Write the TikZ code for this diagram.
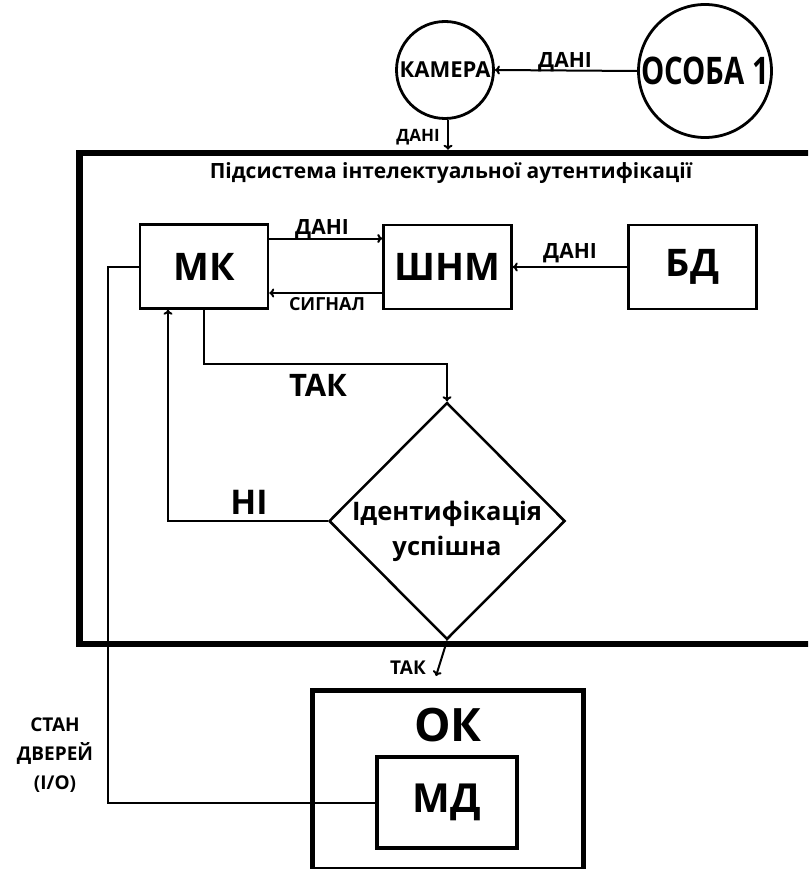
\documentclass[tikz,border=0pt]{standalone}
\usepackage{fontspec}
\setmainfont{Open Sans}
\usetikzlibrary{shapes.geometric,arrows.meta}

\begin{document}
\begin{tikzpicture}[x=1pt, y=-1pt,
		blk/.style={draw, line width=2.5pt, minimum width=128pt, minimum height=84pt, inner sep=0pt, font=\fontsize{38}{40}\selectfont\bfseries},
		ring/.style={circle, draw, line width=2.8pt, inner sep=0pt},
		lbl/.style={inner sep=0pt, font=\fontsize{21}{22}\selectfont\bfseries},
		big/.style={inner sep=0pt, font=\fontsize{31}{32}\selectfont\bfseries},
		conn/.style={-{To[length=5pt, width=9pt]}, line width=2pt},
		wire/.style={line width=2pt}]
		\useasboundingbox (0,0) rectangle (808,869);
		\clip (0,0) rectangle (808,869);
		\fill[white] (0,0) rectangle (808,869);

		\node[ring, minimum size=97pt, font=\fontsize{22}{22}\selectfont\bfseries] (cam) at (445,70) {КАМЕРА};
		\node[ring, minimum size=133pt, font=\fontsize{38}{38}\selectfont\bfseries] (person) at (705,71) {\scalebox{0.77}[1]{ОСОБА 1}};

		\node[draw, line width=6.5pt, minimum width=760pt, minimum height=491pt] (subsys) at (459.5,398.5) {};
		\node[inner sep=0pt, font=\fontsize{21}{22}\selectfont\bfseries] (title) at (451,173) {Підсистема інтелектуальної аутентифікації};

		\node[blk] (mk) at (204,266.5) {МК};
		\node[blk] (shnm) at (447.5,267) {ШНМ};
		\node[blk] (bd) at (692.5,267) {БД};

		\node[diamond, draw, line width=2.5pt, minimum width=236pt, minimum height=237pt, inner sep=0pt] (dec) at (447,521) {};
		\node[align=center, inner sep=0pt, font=\fontsize{25.5}{35}\selectfont\bfseries] (dectxt) at ([yshift=-10pt]dec.center) {Ідентифікація\\успішна};

		\node[draw, line width=5pt, minimum width=271pt, minimum height=179pt] (ok) at (448,780) {};
		\node[inner sep=0pt, font=\fontsize{46}{48}\selectfont\bfseries] (oktxt) at (448,725) {ОК};
		\node[draw, line width=4.5pt, minimum width=140pt, minimum height=91pt, font=\fontsize{40}{42}\selectfont\bfseries] (md) at (447,802.5) {МД};

		\coordinate (okin) at (436,676);

		\draw[conn] (person.west) -- (cam.east);
		\node[lbl] (d1) at (565,62) {ДАНІ};
		\draw[conn] ([xshift=3pt]cam.south) -- ([xshift=3pt]cam.south |- subsys.north);
		\node[lbl, font=\fontsize{17}{18}\selectfont\bfseries] (d2) at (418,137) {ДАНІ};

		\draw[conn] ([yshift=28pt]mk.east) -- ([yshift=28pt]mk.east -| shnm.west);
		\node[lbl] (d3) at (322,229) {ДАНІ};
		\draw[conn] ([yshift=-26pt]shnm.west) -- ([yshift=-26pt]shnm.west -| mk.east);
		\node[lbl, font=\fontsize{18}{20}\selectfont\bfseries] (sig) at (327,304) {СИГНАЛ};
		\draw[conn] (bd.west) -- (shnm.east);
		\node[lbl] (d4) at (570,253) {ДАНІ};

		\draw[conn] (mk.south) -- ++(0,54) -| (dec.north);
		\node[big] (yes1) at (318,385) {ТАК};
		\draw[conn] (dec.west) -| ([xshift=-36pt]mk.south);
		\node[big, font=\fontsize{34}{36}\selectfont\bfseries] (no) at (249,502) {НІ};
		\draw[conn] (dec.south) -- (okin);
		\node[lbl, font=\fontsize{19}{20}\selectfont\bfseries] (yes2) at (408,668) {ТАК};

		\draw[wire] (mk.west) -- ++(-31,0) |- (md.west);
		\node[align=center, inner sep=0pt, font=\fontsize{19}{29}\selectfont\bfseries] (door) at (55,755) {СТАН\\ДВЕРЕЙ\\(I/O)};
	\end{tikzpicture}
\end{document}
